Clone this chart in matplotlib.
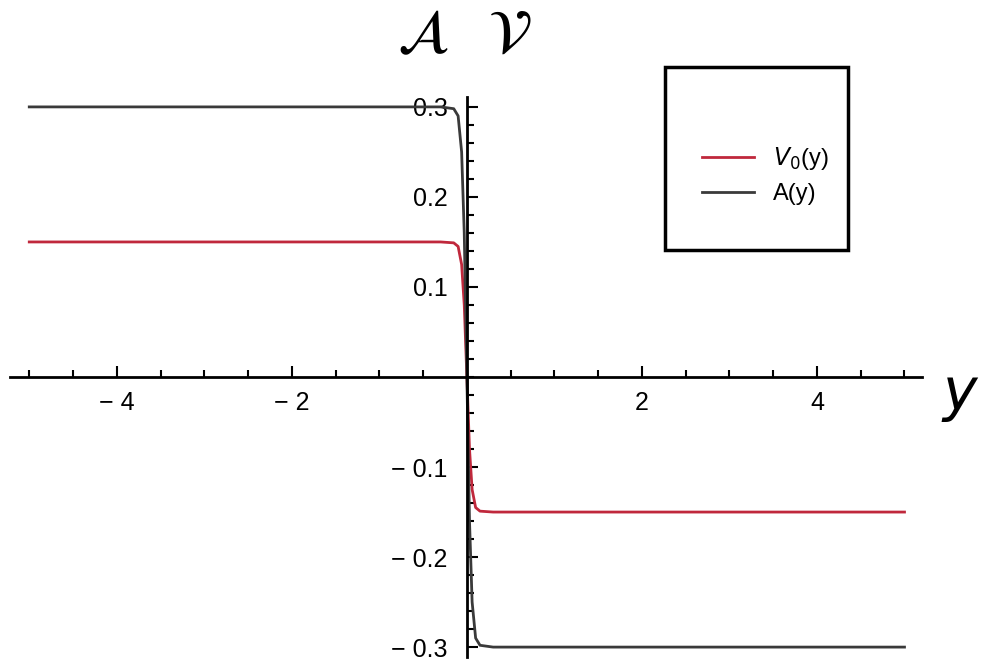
import matplotlib.pyplot as plt
from matplotlib.patches import Rectangle
from matplotlib.ticker import MultipleLocator

# values (steep step at y = 0)
y_pts = [-5.0, -0.3, -0.15, -0.1, -0.06, -0.03, 0.0, 0.03, 0.06, 0.1, 0.15, 0.3, 5.0]
A_vals = [0.3, 0.3, 0.298, 0.29, 0.25, 0.16, 0.0, -0.16, -0.25, -0.29, -0.298, -0.3, -0.3]
V0_vals = [0.15, 0.15, 0.149, 0.145, 0.125, 0.08, 0.0, -0.08, -0.125, -0.145, -0.149, -0.15, -0.15]

x_major = [-4, -2, 2, 4]
x_labels = ["\u2212 4", "\u2212 2", "2", "4"]
y_major = [-0.3, -0.2, -0.1, 0.1, 0.2, 0.3]
y_labels = ["\u2212 0.3", "\u2212 0.2", "\u2212 0.1", "0.1", "0.2", "0.3"]

fig = plt.figure(figsize=(9.85, 6.62), dpi=100)
ax = fig.add_axes([10 / 985, 5 / 662, 912 / 985, 560 / 662])

ax.plot(y_pts, V0_vals, color='#c0283c', lw=2, label='$V_0$(y)')
ax.plot(y_pts, A_vals, color='#3a3a3a', lw=2, label='A(y)')

ax.set_xlim(-5.22, 5.2)
ax.set_ylim(-0.311, 0.311)

for s in ['top', 'right']:
    ax.spines[s].set_visible(False)
ax.spines['left'].set_position(('data', 0))
ax.spines['bottom'].set_position(('data', 0))
ax.spines['left'].set_linewidth(2)
ax.spines['bottom'].set_linewidth(2)

ax.set_xticks(x_major)
ax.set_xticklabels(x_labels)
ax.xaxis.set_minor_locator(MultipleLocator(0.5))
ax.set_yticks(y_major)
ax.set_yticklabels(y_labels)
ax.yaxis.set_minor_locator(MultipleLocator(0.02))
ax.tick_params(which='major', direction='in', length=8, width=1.5, labelsize=18)
ax.tick_params(axis='x', which='major', pad=10)
ax.tick_params(axis='y', which='major', pad=14)
ax.tick_params(which='minor', direction='in', length=5, width=1.5)
for lab in ax.get_xticklabels() + ax.get_yticklabels():
    lab.set_family('Liberation Sans')

fig.text(465 / 985, 1 - 36 / 662, r'$\mathcal{A}\ \ \mathcal{V}$',
         fontsize=44, ha='center', va='center')
fig.text(960 / 985, 1 - 395 / 662, r'$\mathit{y}$',
         fontsize=42, ha='center', va='center')

fig.patches.append(Rectangle((665 / 985, 1 - 250 / 662), 183 / 985, 183 / 662,
                             transform=fig.transFigure, fill=False,
                             edgecolor='black', lw=2.5))
ax.legend(loc='center', bbox_to_anchor=(765 / 985, 1 - 175 / 662),
          bbox_transform=fig.transFigure, frameon=False,
          handlelength=2.2, labelspacing=0.45,
          prop={'family': 'Liberation Sans', 'size': 17})

fig.savefig('out.png', dpi=100)
